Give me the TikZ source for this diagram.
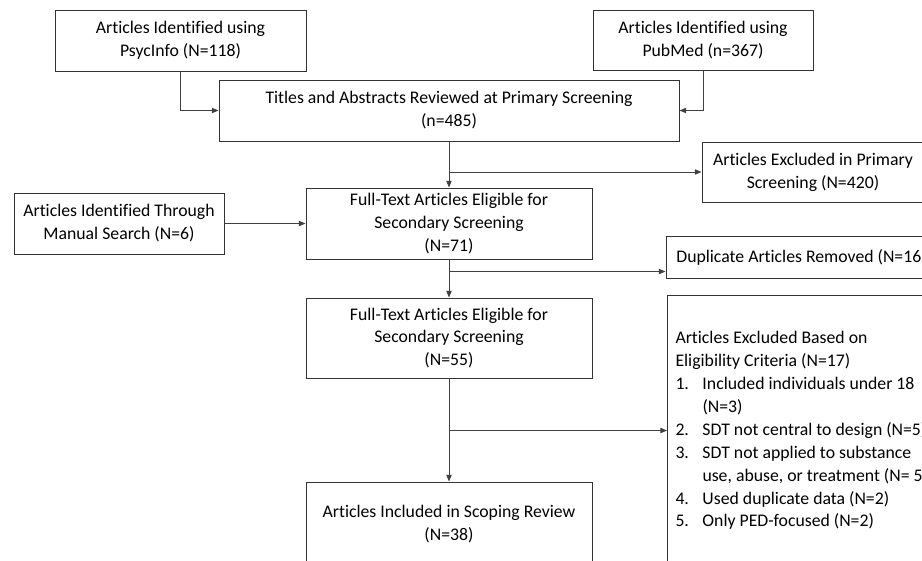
\documentclass[tikz,border=0pt]{standalone}
\usepackage{fontspec}
\setmainfont{Carlito}[Ligatures=NoCommon]
\usetikzlibrary{arrows.meta, calc}

\begin{document}
\begin{tikzpicture}[x=0.75pt, y=-0.75pt,
        box/.style={draw=black!80, line width=0.75pt, align=center, inner sep=0pt,
            font=\fontsize{13.3}{17.2}\selectfont},
        link/.style={draw=black!75, line width=0.75pt, -{Triangle[length=5pt, width=4pt]}}]
        \useasboundingbox (0, 0) rectangle (922, 561);
        \clip (0, 0) rectangle (922, 561);

        \node[box, minimum width=188.25pt, minimum height=45.75pt] (psyc) at (180.5, 40.5) {Articles Identified using\\PsycInfo (N=118)};
        \node[box, minimum width=165pt, minimum height=45pt] (pubmed) at (703, 40) {Articles Identified using\\PubMed (n=367)};
        \node[box, minimum width=345pt, minimum height=45.75pt] (titles) at (449, 110.5) {Titles and Abstracts Reviewed at Primary Screening\\(n=485)};
        \node[box, minimum width=166.5pt, minimum height=45pt] (exclprim) at (813, 172) {Articles Excluded in Primary\\Screening (N=420)};
        \node[box, minimum width=157.5pt, minimum height=45.75pt] (manual) at (119, 223.5) {Articles Identified Through\\Manual Search (N=6)};
        \node[box, minimum width=214.5pt, minimum height=53.25pt] (full1) at (449, 223.5) {Full-Text Articles Eligible for\\Secondary Screening\\(N=71)};
        \node[box, minimum width=203.25pt, minimum height=31.5pt] (dup) at (801.5, 257) {Duplicate Articles Removed (N=16)};
        \node[box, minimum width=214.5pt, minimum height=60pt] (full2) at (449, 338) {Full-Text Articles Eligible for\\Secondary Screening\\(N=55)};
        \node[box, minimum width=214.5pt, minimum height=63pt] (final) at (449, 524) {Articles Included in Scoping Review\\(N=38)};
        \node[box, align=flush left, anchor=north west, text width=260pt, inner xsep=6pt, minimum height=202.5pt] (elig) at (667, 295) {Articles Excluded Based on\\
            Eligibility Criteria (N=17)\\
            \makebox[20.25pt][l]{1.}Included individuals under 18\\
            \hspace*{20.25pt}(N=3)\\
            \makebox[20.25pt][l]{2.}SDT not central to design (N=5)\\
            \makebox[20.25pt][l]{3.}SDT not applied to substance\\
            \hspace*{20.25pt}use, abuse, or treatment (N= 5)\\
            \makebox[20.25pt][l]{4.}Used duplicate data (N=2)\\
            \makebox[20.25pt][l]{5.}Only PED-focused (N=2)};

        \coordinate (dupin) at ($(dup.south west)+(0, -7)$);

        \draw[link] (psyc.south) |- (titles.west);
        \draw[link] (pubmed.south) |- (titles.east);
        \draw[link] (titles.south) -- (full1.north);
        \draw[link] (titles.south |- exclprim.west) -- (exclprim.west);
        \draw[link] (manual.east) -- (full1.west);
        \draw[link] (full1.south) -- (full2.north);
        \draw[link] (full1.south |- dupin) -- (dupin);
        \draw[link] (full2.south) -- (final.north);
        \draw[link] (full2.south |- elig.west) -- (elig.west);
    \end{tikzpicture}
\end{document}
